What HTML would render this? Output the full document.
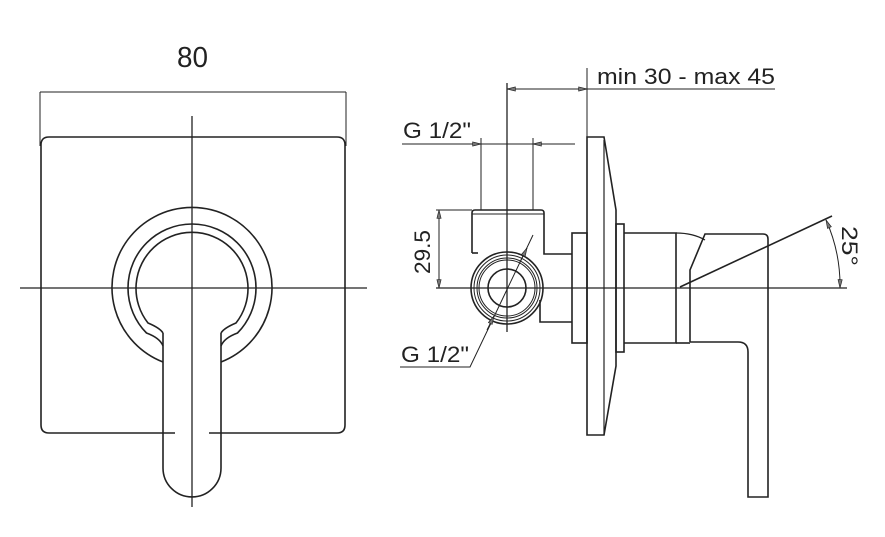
<!DOCTYPE html>
<html><head><meta charset="utf-8"><style>
html,body{margin:0;padding:0;background:#fff;}
svg{display:block}
text{font-family:"Liberation Sans",sans-serif;fill:#222}
</style></head><body>
<svg width="885" height="537" viewBox="0 0 885 537" xmlns="http://www.w3.org/2000/svg">
<defs>
<marker id="a" viewBox="0 0 10 6" refX="10" refY="3" markerWidth="13" markerHeight="5" orient="auto-start-reverse" markerUnits="userSpaceOnUse">
<path d="M0,0.5 L10,3 L0,5.5 Z" fill="#777" stroke="#222" stroke-width="0.8"/>
</marker>
</defs>
<g fill="none" stroke="#222" stroke-width="1.6">
<!-- LEFT VIEW -->
<line x1="40" y1="92" x2="346" y2="92" stroke-width="1"/>
<line x1="40" y1="92" x2="40" y2="146" stroke-width="1"/>
<line x1="346" y1="92" x2="346" y2="146" stroke-width="1"/>
<path d="M175,433 H49 Q41,433 41,425 V145 Q41,137 49,137 H337 Q345,137 345,145 V425 Q345,433 337,433 H209"/>
<line x1="192" y1="116" x2="192" y2="507" stroke-width="1.3"/>
<line x1="20" y1="288" x2="367" y2="288" stroke-width="1.3"/>
<path d="M163,362 A80,80 0 1 1 221,362"/>
<path d="M163,346 Q160,338 146.5,333 A64,64 0 1 1 237.5,333 Q224,338 221,346"/>
<path d="M163,333 Q160,328 148,323 A56,56 0 1 1 236,323 Q224,328 221,333"/>
<path d="M163,333 V468 A29,29 0 0 0 221,468 V333"/>
<!-- RIGHT VIEW -->
<line x1="436" y1="288" x2="847" y2="288" stroke-width="1.3"/>
<line x1="507" y1="83" x2="507" y2="332" stroke-width="1.3"/>
<line x1="587" y1="68" x2="587" y2="137" stroke-width="1"/>
<line x1="507" y1="89" x2="587" y2="89" stroke-width="1" marker-start="url(#a)" marker-end="url(#a)"/>
<line x1="587" y1="89" x2="775" y2="89" stroke-width="1"/>
<line x1="402" y1="144" x2="575" y2="144" stroke-width="1"/>
<line x1="462" y1="144" x2="481" y2="144" stroke-width="1" marker-end="url(#a)"/>
<line x1="553" y1="144" x2="533" y2="144" stroke-width="1" marker-end="url(#a)"/>
<line x1="481" y1="138" x2="481" y2="210" stroke-width="1"/>
<line x1="533" y1="138" x2="533" y2="210" stroke-width="1"/>
<line x1="436" y1="210" x2="472" y2="210" stroke-width="1"/>
<line x1="439" y1="210" x2="439" y2="288" stroke-width="1" marker-start="url(#a)" marker-end="url(#a)"/>
<path d="M472,253 V213 Q472,210 475,210 H541 Q544,210 544,213 V254 H572"/>
<line x1="472" y1="214" x2="544" y2="214" stroke-width="1"/>
<path d="M472,253 H478"/>
<circle cx="507" cy="288" r="36"/>
<circle cx="507" cy="288" r="33" stroke-width="1"/>
<circle cx="507" cy="288" r="30" stroke-width="1"/>
<circle cx="507" cy="288" r="28" stroke-width="1"/>
<circle cx="507" cy="288" r="19"/>
<path d="M540,300 V322 H572" />
<path d="M400,367 H470 L533,235" stroke-width="1"/>
<line x1="520" y1="262" x2="527" y2="248" stroke-width="1" marker-end="url(#a)"/>
<line x1="494" y1="316" x2="487" y2="330" stroke-width="1" marker-start="url(#a)"/>
<rect x="572" y="233" width="15" height="110"/>
<path d="M587,137 H604 L616,210 V366 L604,435 H587 Z"/>
<line x1="604" y1="140" x2="604" y2="435" stroke-width="1.2"/>
<rect x="616" y="224" width="8" height="128"/>
<path d="M624,233 H676 V343 H624"/>
<path d="M676,233 Q693,233 705,240" stroke-width="1.3"/>
<path d="M676,343 H690"/>
<path d="M690,342 V270 L705,234 H763 Q768,234 768,239 V497 H748 V352 Q748,342 738,342 H690"/>
<line x1="680" y1="287" x2="832" y2="216"/>
<path d="M826,220 A160,160 0 0 1 840,288" stroke-width="1" marker-start="url(#a)" marker-end="url(#a)"/>
</g>
<text x="177" y="67" font-size="29" textLength="31" lengthAdjust="spacingAndGlyphs">80</text>
<text x="597" y="84" font-size="22" textLength="178" lengthAdjust="spacingAndGlyphs">min 30 - max 45</text>
<text x="403" y="138" font-size="22" textLength="68" lengthAdjust="spacingAndGlyphs">G 1/2"</text>
<text x="401" y="362" font-size="22" textLength="68" lengthAdjust="spacingAndGlyphs">G 1/2"</text>
<text transform="translate(430,274) rotate(-90)" font-size="22" textLength="44" lengthAdjust="spacingAndGlyphs">29.5</text>
<text transform="translate(842,226) rotate(90)" font-size="22" textLength="40" lengthAdjust="spacingAndGlyphs">25°</text>
</svg>
</body></html>
